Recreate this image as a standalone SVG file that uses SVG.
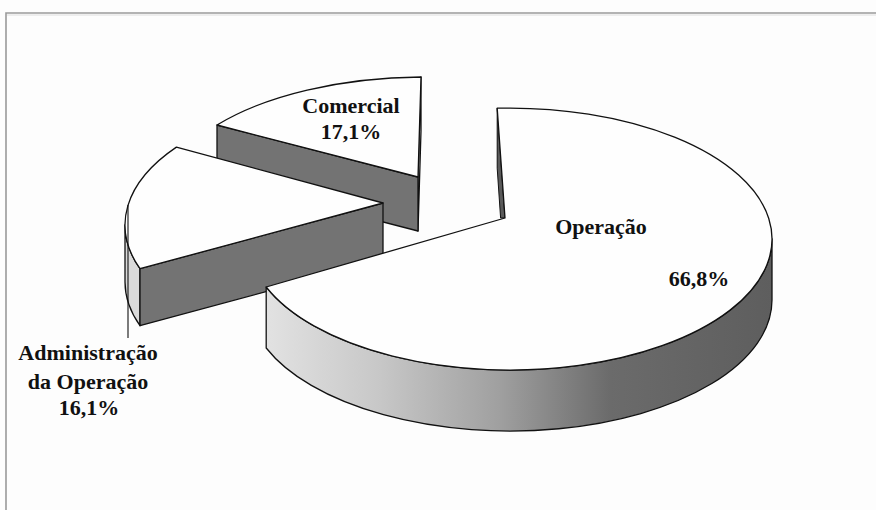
<svg xmlns="http://www.w3.org/2000/svg" width="876" height="510" viewBox="0 0 876 510">
  <defs>
    <linearGradient id="rimShade" gradientUnits="userSpaceOnUse" x1="266" y1="0" x2="772" y2="0">
      <stop offset="0" stop-color="#e2e2e2"/>
      <stop offset="0.22" stop-color="#c8c8c8"/>
      <stop offset="0.46" stop-color="#a0a0a0"/>
      <stop offset="0.68" stop-color="#6b6b6b"/>
      <stop offset="1" stop-color="#5e5e5e"/>
    </linearGradient>
  </defs>
  <style>
    .top  { fill: #fefefe; stroke: #111; stroke-width: 1.3; stroke-linejoin: round; }
    .wall { fill: #737373; stroke: #111; stroke-width: 1.3; stroke-linejoin: round; }
    .rim  { fill: #dadada; stroke: #111; stroke-width: 1.3; stroke-linejoin: round; }
    .edge { fill: #5a5a5a; stroke: #111; stroke-width: 1; stroke-linejoin: round; }
    .lbl  { font-family: "Liberation Serif", "Times New Roman", serif; font-weight: bold; font-size: 22px; fill: #111; text-anchor: middle; }
    .frame { fill: none; stroke: #9a9a9a; stroke-width: 1.6; }
  </style>

  <rect width="876" height="510" fill="#fdfdfd"/>
  <!-- chart area border: left and top only -->
  <path class="frame" d="M6,510 L6,13 L876,13"/>
  <path d="M7,15 L876,15" fill="none" stroke="#dedede" stroke-width="1"/>

  <!-- back slice -->
  <g id="slice-comercial">
    <polygon class="rim" points="421,77 418,177 418,231 421,131"/>
    <polygon class="wall" points="217,125 418,177 418,231 217,179"/>
    <path class="top" d="M418,177 L217,125 A262,122 0 0 1 421,77 Z"/>
    <text class="lbl" x="351" y="113">Comercial</text>
    <text class="lbl" x="351" y="139">17,1%</text>
  </g>

  <!-- left slice -->
  <g id="slice-administracao">
    <path class="rim" d="M140,268.7 A262,131 0 0 1 125,225 L125,282 A262,131 0 0 0 140,325.7 Z"/>
    <polygon class="wall" points="383,203 140,268.7 140,325.7 383,260"/>
    <path class="top" d="M383,203 L140,268.7 A262,131 0 0 1 176.4,147.1 Z"/>
    <text class="lbl" x="88" y="360">Administração</text>
    <text class="lbl" x="88" y="389">da Operação</text>
    <text class="lbl" x="89" y="415">16,1%</text>
  </g>

  <!-- front slice -->
  <g id="slice-operacao">
    <path d="M772,239 A262,131 0 0 1 266.2,287 L266.2,348 A262,131 0 0 0 772,300 Z" fill="url(#rimShade)" stroke="#111" stroke-width="1.3" stroke-linejoin="round"/>
    <polygon class="edge" points="497.2,108.2 505,218 500.6,218 497.2,168.2"/>
    <path class="top" d="M505,218 L497.2,108.2 A262,131 0 1 1 266.2,287 Z"/>
    <text class="lbl" x="601" y="234">Operação</text>
    <text class="lbl" x="699" y="286">66,8%</text>
  </g>

  <!-- label leader -->
  <g id="connectors">
    <line x1="128" y1="205" x2="128" y2="338" stroke="#111" stroke-width="1.1"/>
  </g>
</svg>
